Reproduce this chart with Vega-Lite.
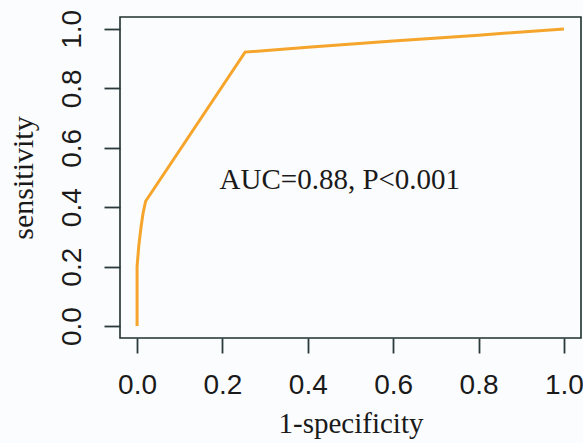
{
  "$schema": "https://vega.github.io/schema/vega-lite/v6.json",
  "autosize": {"type": "none"},
  "padding": {"left": 120, "top": 17, "right": 2, "bottom": 105},
  "width": 461,
  "height": 321,
  "background": "#fbfcfd",
  "config": {
    "view": {"stroke": "#1f2f2f", "strokeWidth": 1.6, "fill": "#fbfcfd"}
  },
  "datasets": {
    "roc": [
      {"fpr": 0.0, "tpr": 0.0},
      {"fpr": 0.0, "tpr": 0.2},
      {"fpr": 0.004, "tpr": 0.27},
      {"fpr": 0.009, "tpr": 0.33},
      {"fpr": 0.014, "tpr": 0.38},
      {"fpr": 0.02, "tpr": 0.42},
      {"fpr": 0.253, "tpr": 0.922},
      {"fpr": 0.4, "tpr": 0.938},
      {"fpr": 0.6, "tpr": 0.959},
      {"fpr": 0.8, "tpr": 0.979},
      {"fpr": 1.0, "tpr": 1.0}
    ],
    "note": [
      {"fpr": 0.475, "tpr": 0.49, "label": "AUC=0.88, P<0.001"}
    ]
  },
  "layer": [
    {
      "data": {"name": "roc"},
      "mark": {"type": "line", "color": "#f5a52b", "strokeWidth": 3},
      "encoding": {
        "x": {
          "field": "fpr", "type": "quantitative",
          "scale": {"domain": [-0.04, 1.04], "nice": false, "zero": false},
          "axis": {
            "title": "1-specificity",
            "values": [0, 0.2, 0.4, 0.6, 0.8, 1.0],
            "format": ".1f",
            "domain": false, "grid": false,
            "tickColor": "#2a3a3a", "tickWidth": 1.8, "tickSize": 15,
            "labelFont": "Liberation Sans", "labelFontSize": 28, "labelColor": "#1a1a1a",
            "labelPadding": 18, "labelFlush": false,
            "titleFont": "Liberation Serif", "titleFontSize": 29, "titleFontWeight": "normal",
            "titleColor": "#1a1a1a", "titlePadding": 10
          }
        },
        "y": {
          "field": "tpr", "type": "quantitative",
          "scale": {"domain": [-0.04, 1.04], "nice": false, "zero": false},
          "axis": {
            "title": "sensitivity",
            "values": [0, 0.2, 0.4, 0.6, 0.8, 1.0],
            "format": ".1f",
            "domain": false, "grid": false,
            "tickColor": "#2a3a3a", "tickWidth": 1.8, "tickSize": 16,
            "labelFont": "Liberation Sans", "labelFontSize": 28, "labelColor": "#1a1a1a",
            "labelAngle": -90, "labelAlign": "center", "labelBaseline": "alphabetic",
            "labelPadding": 24, "labelFlush": false,
            "titleFont": "Liberation Serif", "titleFontSize": 30, "titleFontWeight": "normal",
            "titleColor": "#1a1a1a", "titlePadding": 20
          }
        }
      }
    },
    {
      "data": {"name": "note"},
      "mark": {"type": "text", "font": "Liberation Serif", "fontSize": 29, "color": "#1a1a1a", "align": "center", "baseline": "middle"},
      "encoding": {
        "x": {"field": "fpr", "type": "quantitative"},
        "y": {"field": "tpr", "type": "quantitative"},
        "text": {"field": "label"}
      }
    }
  ]
}
